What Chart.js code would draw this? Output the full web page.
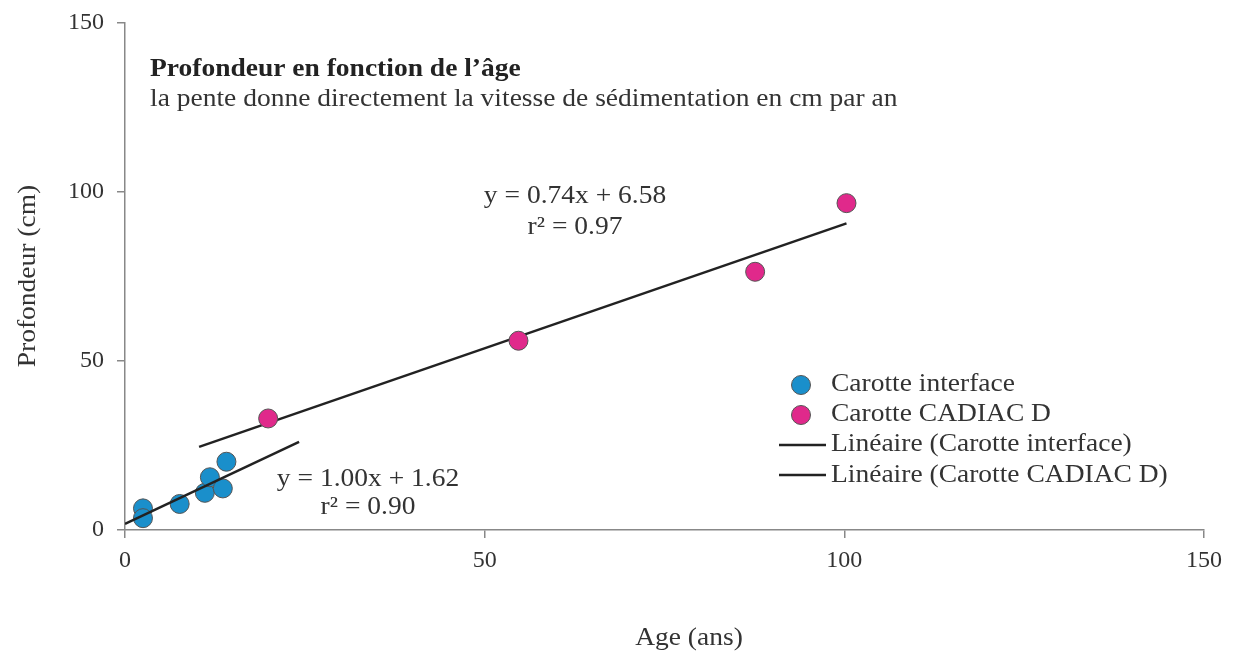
<!DOCTYPE html>
<html>
<head>
<meta charset="utf-8">
<script src="https://cdn.jsdelivr.net/npm/chart.js@4/dist/chart.umd.min.js"></script>
<style>
html,body{margin:0;padding:0;background:#fff;}
canvas{display:block;}
</style>
</head>
<body>
<canvas id="c" width="1235" height="652"></canvas>
<script>
// ---- data ----
const interfaceAge   = [2.5, 2.5, 7.6, 11.1, 11.8, 13.6, 14.1];
const interfaceDepth = [6.4, 3.5, 7.7, 11.0, 15.6, 12.3, 20.2];
const cadiacAge      = [19.9, 54.7, 87.6, 100.3];
const cadiacDepth    = [33.0, 56.0, 76.4, 96.7];
// trend line end points (as drawn)
const trendInterfaceX = [0, 24.2];
const trendInterfaceY = [1.8, 26.1];
const trendCadiacX    = [10.3, 100.3];
const trendCadiacY    = [24.6, 90.7];
const tickValues = [0, 50, 100, 150];

const seriesNames = ['Carotte interface', 'Carotte CADIAC D',
  'Linéaire (Carotte interface)', 'Linéaire (Carotte CADIAC D)'];
const titleText = 'Profondeur en fonction de l\u2019âge';
const subtitleText = 'la pente donne directement la vitesse de sédimentation en cm par an';
const eqCadiac = ['y = 0.74x + 6.58', 'r\u00B2 = 0.97'];
const eqInterface = ['y = 1.00x + 1.62', 'r\u00B2 = 0.90'];
const xTitle = 'Age (ans)';
const yTitle = 'Profondeur (cm)';

const BLUE = '#1a8fcb';
const PINK = '#e0298b';
const LINE = '#222222';
const FONT = '"Liberation Serif", "DejaVu Serif", serif';
const SX = 1.1; // horizontal stretch of the reference text

const pts = (xs, ys) => xs.map((x, i) => ({x, y: ys[i]}));

function txt(ctx, t, x, y, align, font, color, rot) {
  ctx.save();
  ctx.translate(x, y);
  if (rot) ctx.rotate(rot);
  ctx.scale(SX, 1);
  ctx.font = font;
  ctx.fillStyle = color;
  ctx.textAlign = align;
  ctx.fillText(t, 0, 0);
  ctx.restore();
}

const overlay = {
  id: 'overlay',
  afterDraw(chart) {
    const ctx = chart.ctx;
    ctx.save();
    ctx.textBaseline = 'alphabetic';
    const F = '25px ' + FONT;
    txt(ctx, titleText, 150, 76, 'left', 'bold 25px ' + FONT, '#222');
    txt(ctx, subtitleText, 150, 106, 'left', F, '#333');
    txt(ctx, eqCadiac[0], 575, 203, 'center', F, '#333');
    txt(ctx, eqCadiac[1], 575, 234, 'center', F, '#333');
    txt(ctx, eqInterface[0], 368, 486, 'center', F, '#333');
    txt(ctx, eqInterface[1], 368, 514, 'center', F, '#333');
    txt(ctx, xTitle, 689, 645, 'center', F, '#333');
    ctx.textBaseline = 'middle';
    txt(ctx, yTitle, 28, 276, 'center', F, '#333', -Math.PI / 2);
    ctx.textBaseline = 'alphabetic';
    // legend
    const circ = [385, 415], lines = [445, 475], base = [391, 421, 451, 482];
    [BLUE, PINK].forEach((c, i) => {
      ctx.beginPath();
      ctx.arc(801, circ[i], 9.5, 0, Math.PI * 2);
      ctx.fillStyle = c; ctx.fill();
      ctx.lineWidth = 1; ctx.strokeStyle = '#555'; ctx.stroke();
    });
    lines.forEach(y => {
      ctx.beginPath();
      ctx.moveTo(779, y); ctx.lineTo(826, y);
      ctx.lineWidth = 2.5; ctx.strokeStyle = LINE; ctx.stroke();
    });
    seriesNames.forEach((t, i) => txt(ctx, t, 831, base[i], 'left', F, '#333'));
    ctx.restore();
  }
};

const axisCommon = {
  type: 'linear', min: 0, max: 150,
  afterBuildTicks: s => { s.ticks = tickValues.map(v => ({value: v})); },
  grid: {display: true, drawOnChartArea: false, drawTicks: true, tickLength: 8, color: '#888', lineWidth: 1.5},
  border: {display: true, color: '#888', width: 1.5},
  ticks: {color: '#333', font: {family: FONT, size: 24}}
};

new Chart(document.getElementById('c'), {
  type: 'scatter',
  data: {
    datasets: [
      {label: seriesNames[1], data: pts(cadiacAge, cadiacDepth), backgroundColor: PINK,
       borderColor: '#555', borderWidth: 1, pointRadius: 9.5, showLine: false},
      {label: seriesNames[2], data: pts(trendInterfaceX, trendInterfaceY), type: 'line',
       borderColor: LINE, borderWidth: 2.5, pointRadius: 0, showLine: true, fill: false},
      {label: seriesNames[3], data: pts(trendCadiacX, trendCadiacY), type: 'line',
       borderColor: LINE, borderWidth: 2.5, pointRadius: 0, showLine: true, fill: false},
      {label: seriesNames[0], data: pts(interfaceAge, interfaceDepth), backgroundColor: BLUE,
       borderColor: '#555', borderWidth: 1, pointRadius: 9.5, showLine: false}
    ]
  },
  options: {
    responsive: false,
    animation: false,
    layout: {padding: {left: 0, top: 23, right: 31, bottom: 0}},
    plugins: {legend: {display: false}, tooltip: {enabled: false}},
    scales: {
      x: Object.assign({}, axisCommon, {position: 'bottom',
        ticks: Object.assign({}, axisCommon.ticks, {padding: 8}),
        afterFit: s => { s.height = 652 - 530; }}),
      y: Object.assign({}, axisCommon, {position: 'left',
        ticks: Object.assign({}, axisCommon.ticks, {padding: 13}),
        afterFit: s => { s.width = 125; s.paddingTop = 0; s.paddingBottom = 0; }})
    }
  },
  plugins: [overlay]
});
</script>
</body>
</html>
